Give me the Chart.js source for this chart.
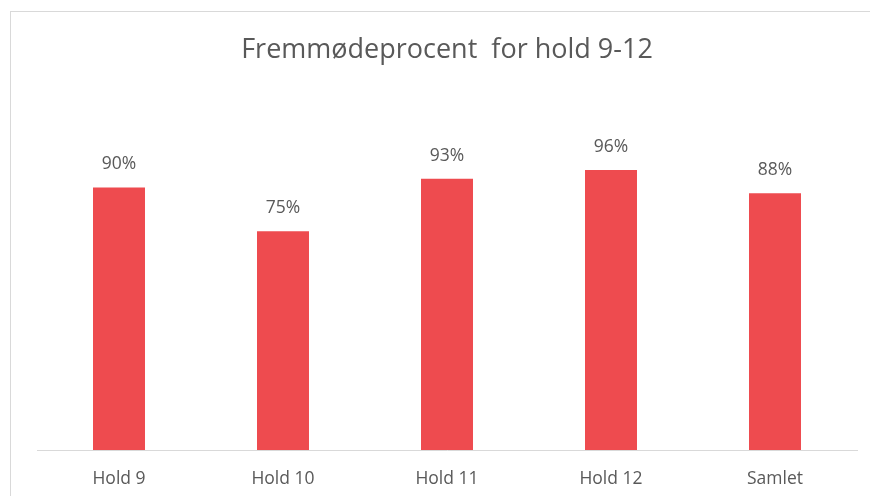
<!DOCTYPE html>
<html lang="da">
<head>
  <meta charset="UTF-8">
  <title>Fremmødeprocent for hold 9-12</title>
  <script src="https://cdn.jsdelivr.net/npm/chart.js"></script>
  <style>
    html, body {
      margin: 0;
      padding: 0;
      background: #ffffff;
      overflow: hidden;
    }

    #wrap {
      position: relative;
      width: 870px;
      height: 496px;
    }

    #frame {
      position: absolute;
      left: 10px;
      top: 11px;
      width: 900px;
      height: 600px;
      border: 1px solid #d9d9d9;
      pointer-events: none;
    }

    canvas {
      position: absolute;
      left: 0;
      top: 0;
    }
  </style>
</head>
<body>
  <div id="wrap">
    <div id="frame"></div>
    <canvas id="attendance" width="870" height="496"></canvas>
  </div>

  <script>
    const categories = ['Hold 9', 'Hold 10', 'Hold 11', 'Hold 12', 'Samlet'];
    const attendance = [90, 75, 93, 96, 88];

    const textColor = '#595959';
    const fontFamily = "'Open Sans', 'Noto Sans', sans-serif";

    // draws the percent above each bar
    const valueLabels = {
      id: 'valueLabels',
      afterDatasetsDraw(chart) {
        const ctx = chart.ctx;
        const meta = chart.getDatasetMeta(0);
        ctx.save();
        ctx.fillStyle = textColor;
        ctx.font = `17.5px ${fontFamily}`;
        ctx.textAlign = 'center';
        ctx.textBaseline = 'middle';
        meta.data.forEach((bar, i) => {
          ctx.fillText(attendance[i] + '%', bar.x, bar.y - 23);
        });
        ctx.restore();
      }
    };

    new Chart(document.getElementById('attendance'), {
      type: 'bar',
      data: {
        labels: categories,
        datasets: [{
          data: attendance,
          backgroundColor: '#ee4b4f',
          barPercentage: 0.317,
          categoryPercentage: 1
        }]
      },
      options: {
        responsive: false,
        animation: false,
        layout: {
          padding: { left: 37, right: 13, top: 0, bottom: 0 }
        },
        scales: {
          x: {
            grid: { display: false, drawTicks: false },
            border: { display: true, color: '#d9d9d9', width: 1 },
            ticks: {
              color: textColor,
              font: { family: fontFamily, size: 17.5 },
              padding: 19
            },
            afterFit(scale) { scale.height = 46; }
          },
          y: {
            display: false,
            min: 0,
            max: 120
          }
        },
        plugins: {
          legend: { display: false },
          tooltip: { enabled: false },
          title: {
            display: true,
            text: 'Fremmødeprocent  for hold 9-12',
            color: textColor,
            font: { family: fontFamily, size: 27, weight: 'normal', lineHeight: 1.2 },
            padding: { top: 33.8, bottom: 33.8 }
          }
        }
      },
      plugins: [valueLabels]
    });
  </script>
</body>
</html>
